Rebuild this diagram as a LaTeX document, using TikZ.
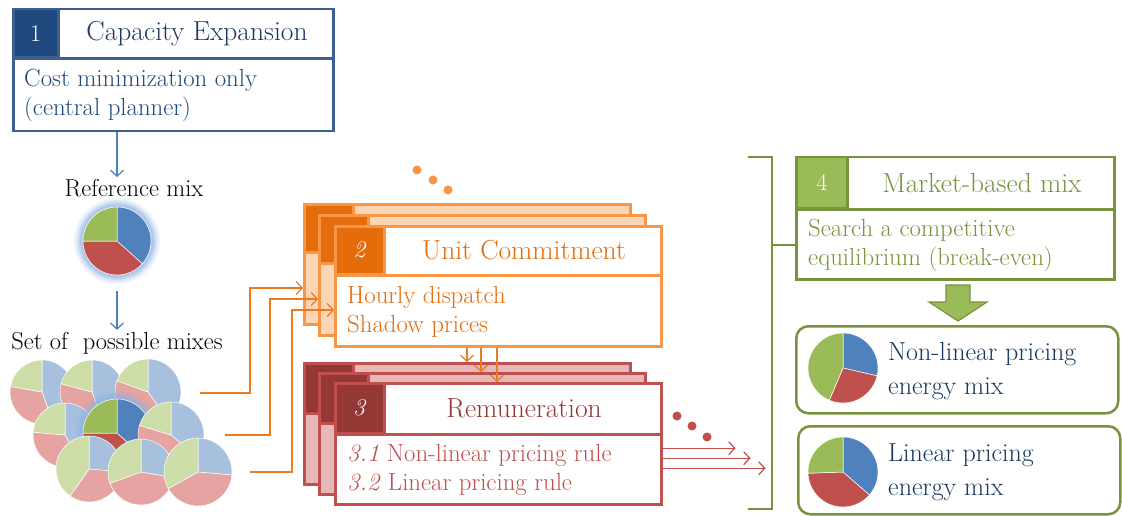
\documentclass[tikz,border=0pt]{standalone}
\usepackage{tikz}
\usetikzlibrary{arrows.meta,positioning,calc}

\definecolor{capblue}{HTML}{3B5F8F}
\definecolor{capdark}{HTML}{1F497D}
\definecolor{captext}{HTML}{1F3864}
\definecolor{linkblue}{HTML}{4F81BD}
\definecolor{ucline}{HTML}{F79646}
\definecolor{ucdark}{HTML}{E46C0A}
\definecolor{ucarrow}{HTML}{EE7A1E}
\definecolor{ucpale}{HTML}{FCD5B5}
\definecolor{remline}{HTML}{C0504D}
\definecolor{remdark}{HTML}{953735}
\definecolor{rempale}{HTML}{E6B9B8}
\definecolor{mktline}{HTML}{77933C}
\definecolor{mktfill}{HTML}{9BBB59}
\definecolor{mixtext}{HTML}{17375E}
\definecolor{pieblue}{HTML}{4F81BD}
\definecolor{piered}{HTML}{C0504D}
\definecolor{piegreen}{HTML}{9BBB59}
\definecolor{piebluefade}{HTML}{A7C0DE}
\definecolor{pieredfade}{HTML}{E5A3A2}
\definecolor{piegreenfade}{HTML}{CDDDA8}
\definecolor{glow}{HTML}{8DB3E2}

% pie of an energy mix: [fade]{x}{y}{radius}{blue ends}{red ends}
\newcommand{\mixpie}[6][]{%
  \begin{scope}[shift={(#2,#3)}, yscale=-1]
    \filldraw[fill=pieblue#1, draw=white, line width=0.5pt] (0,0) -- (90:#4) arc[start angle=90, end angle=#5, radius=#4] -- cycle;
    \filldraw[fill=piered#1, draw=white, line width=0.5pt] (0,0) -- (#5:#4) arc[start angle=#5, end angle=#6, radius=#4] -- cycle;
    \filldraw[fill=piegreen#1, draw=white, line width=0.5pt] (0,0) -- (#6:#4) arc[start angle=#6, end angle=-270, radius=#4] -- cycle;
  \end{scope}}
\newcommand{\mixglow}[3]{%
  \foreach \gr/\op in {9/0.12,7/0.18,5/0.28,3/0.4}
    \fill[glow, opacity=\op] (#1,#2) circle[radius=#3+\gr];}

\begin{document}
\begin{tikzpicture}[
  x=1pt, y=-1pt,
  frame/.style={draw, line width=2.5pt, inner sep=0pt, anchor=north west},
  numcell/.style={frame, text=white, font=\fontsize{24}{28}\selectfont},
  title/.style={inner sep=0pt, font=\fontsize{27.5}{32}\selectfont},
  body/.style={inner sep=0pt, anchor=west, align=left, font=\fontsize{24.8}{29}\selectfont},
  label/.style={inner sep=2pt, font=\fontsize{24.5}{28}\selectfont},
  mixbox/.style={frame, draw=mktline, rounded corners=12pt},
  mixtxt/.style={inner sep=0pt, anchor=west, align=left, text=mixtext, font=\fontsize{26}{34}\selectfont},
  link/.style={-{Straight Barb[length=6pt, width=13pt]}, line width=1.2pt}
]
\fill[white] (0,0) rectangle (1122,516);
\useasboundingbox (0,0) rectangle (1122,516);

% 1 capacity expansion
\node[frame, draw=capblue, minimum width=320, minimum height=122] (n1) at (12,8) {};
\node[numcell, draw=capblue, fill=capdark, minimum width=45, minimum height=48] (n1num) at (n1.north west) {1};
\draw[capblue, line width=2.5pt] (n1num.south west) -- (n1num.south -| n1.east);
\node[title, text=captext] (n1title) at ($(n1num.east)!0.5!(n1num.east -| n1.east)$) {Capacity Expansion};
\node[body, text=capdark] (n1body) at ($(n1num.south west)!0.5!(n1.south west)+(12,0)$) {Cost minimization only\\(central planner)};

% reference mix
\coordinate (refpie) at (117,241);
\node[label] (refl) at (134,188) {Reference mix};
\mixglow{117}{241}{34}
\mixpie{117}{241}{34}{-42}{-180}
\node[label] (setl) at (117,343) {Set of~ possible mixes};

% set of possible mixes
\mixpie[fade]{42}{392}{32}{-70}{-190}
\mixpie[fade]{92}{392}{32}{-70}{-195}
\mixpie[fade]{148}{392}{33}{-55}{-200}
\mixpie[fade]{65}{435}{32}{-60}{-185}
\mixglow{117}{433}{34}
\mixpie{117}{433}{34}{-42}{-180}
\mixpie[fade]{171}{435}{33}{-40}{-197}
\mixpie[fade]{89}{469}{33}{-5}{-125}
\mixpie[fade]{141}{472}{33}{-10}{-160}
\mixpie[fade]{198}{472}{34}{-5}{-151}

% 2 unit commitment
\foreach \dx/\dy/\nm in {-31/-22/b2a, -16/-11/b2b}{
  \node[frame, draw=ucline, fill=ucpale, minimum width=326, minimum height=120] (\nm) at (334+\dx,225+\dy) {};
  \node[numcell, draw=ucline, fill=ucdark, minimum width=49, minimum height=48] at (\nm.north west) {};
}
\node[frame, draw=ucline, fill=white, minimum width=326, minimum height=120] (n2) at (334,225) {};
\node[numcell, draw=ucline, fill=ucdark, minimum width=49, minimum height=48] (n2num) at (n2.north west) {\textit{2}};
\draw[ucline, line width=2.5pt] (n2num.south west) -- (n2num.south -| n2.east);
\node[title, text=ucdark] (n2title) at ($(n2num.east)!0.5!(n2num.east -| n2.east)$) {Unit Commitment};
\node[body, text=ucdark] (n2body) at ($(n2num.south west)!0.5!(n2.south west)+(13,0)$) {Hourly dispatch\\Shadow prices};

% 3 remuneration
\foreach \dx/\dy/\nm in {-31/-20/b3a, -16/-10/b3b}{
  \node[frame, draw=remline, fill=rempale, minimum width=326, minimum height=121] (\nm) at (334+\dx,382+\dy) {};
  \node[numcell, draw=remline, fill=remdark, minimum width=49, minimum height=50] at (\nm.north west) {};
}
\node[frame, draw=remline, fill=white, minimum width=326, minimum height=121] (n3) at (334,382) {};
\node[numcell, draw=remline, fill=remdark, minimum width=49, minimum height=50] (n3num) at (n3.north west) {\textit{3}};
\draw[remline, line width=2.5pt] (n3num.south west) -- (n3num.south -| n3.east);
\node[title, text=remdark] (n3title) at ($(n3num.east)!0.5!(n3num.east -| n3.east)$) {Remuneration};
\node[body, text=remline] (n3body) at ($(n3num.south west)!0.5!(n3.south west)+(13,0)$) {\textit{3.1} Non-linear pricing rule\\\textit{3.2} Linear pricing rule};

% 4 market-based mix
\node[frame, draw=mktline, minimum width=318, minimum height=122] (n4) at (795,156) {};
\node[numcell, draw=mktline, fill=mktfill, minimum width=51, minimum height=51] (n4num) at (n4.north west) {4};
\draw[mktline, line width=2.5pt] (n4num.south west) -- (n4num.south -| n4.east);
\node[title, text=mktline] (n4title) at ($(n4num.east)!0.5!(n4num.east -| n4.east)$) {Market-based mix};
\node[body, text=mktline] (n4body) at ($(n4num.south west)!0.5!(n4.south west)+(13,0)$) {Search a competitive\\equilibrium (break-even)};

\coordinate (brt) at (748,157);
\coordinate (brb) at (748,509);
\draw[mktline, line width=1.2pt] (brt) -- ++(24,0) coordinate (brx) -- (brx |- brb) -- (brb);
\draw[mktline, line width=1.2pt] (brx |- n4body.west) -- (n4.west |- n4body.west);

\filldraw[draw=mktline, fill=mktfill, line width=1.2pt] (946,285) -- (970,285) -- (970,302) -- (987,302) -- (958,321) -- (929,302) -- (946,302) -- cycle;

% resulting mixes
\node[mixbox, minimum width=322, minimum height=87] (r1) at (795,325) {};
\mixpie{843}{368}{35}{-13}{-113}
\node[mixtxt] (r1txt) at (888,371) {Non-linear pricing\\energy mix};
\node[mixbox, minimum width=322, minimum height=88] (r2) at (797,425) {};
\mixpie{843}{472}{35}{-41}{-178}
\node[mixtxt] (r2txt) at (888,472) {Linear pricing\\energy mix};

% links
\draw[link, linkblue] (n1.south -| refpie) -- (refl.north -| refpie);
\draw[link, linkblue] ($(refpie)+(0,50)$) -- (setl.north -| refpie);

\coordinate (p1) at (200,393);
\coordinate (p2) at (225,435);
\coordinate (p3) at (250,472);
\coordinate (e1) at (250,288);
\coordinate (e2) at (270,299);
\coordinate (e3) at (292,310);
\draw[link, ucarrow] (p1) -| (e1) -- (e1 -| b2a.west);
\draw[link, ucarrow] (p2) -| (e2) -- (e2 -| b2b.west);
\draw[link, ucarrow] (p3) -| (e3) -- (e3 -| n2.west);

\coordinate (d1) at ([xshift=133]n2.south west);
\coordinate (d2) at ([xshift=147]n2.south west);
\coordinate (d3) at ([xshift=163]n2.south west);
\draw[link, ucarrow] (d1) -- (d1 |- b3a.north);
\draw[link, ucarrow] (d2) -- (d2 |- b3b.north);
\draw[link, ucarrow] (d3) -- (d3 |- n3.north);

\draw[link, remline] ([yshift=-4.5]n3.east) -- ++(73,0);
\draw[link, remline] ([yshift=-14.5]n3.east) -- ++(88,0);
\draw[link, remline] ([yshift=-24.5]n3.east) -- ++(103,0);

\foreach \x/\y in {417/170, 433/180, 448/190}
  \fill[ucline] (\x,\y) circle[radius=4.5];
\foreach \x/\y in {677/416, 692/426, 707/437}
  \fill[remline] (\x,\y) circle[radius=4.5];
\end{tikzpicture}
\end{document}
